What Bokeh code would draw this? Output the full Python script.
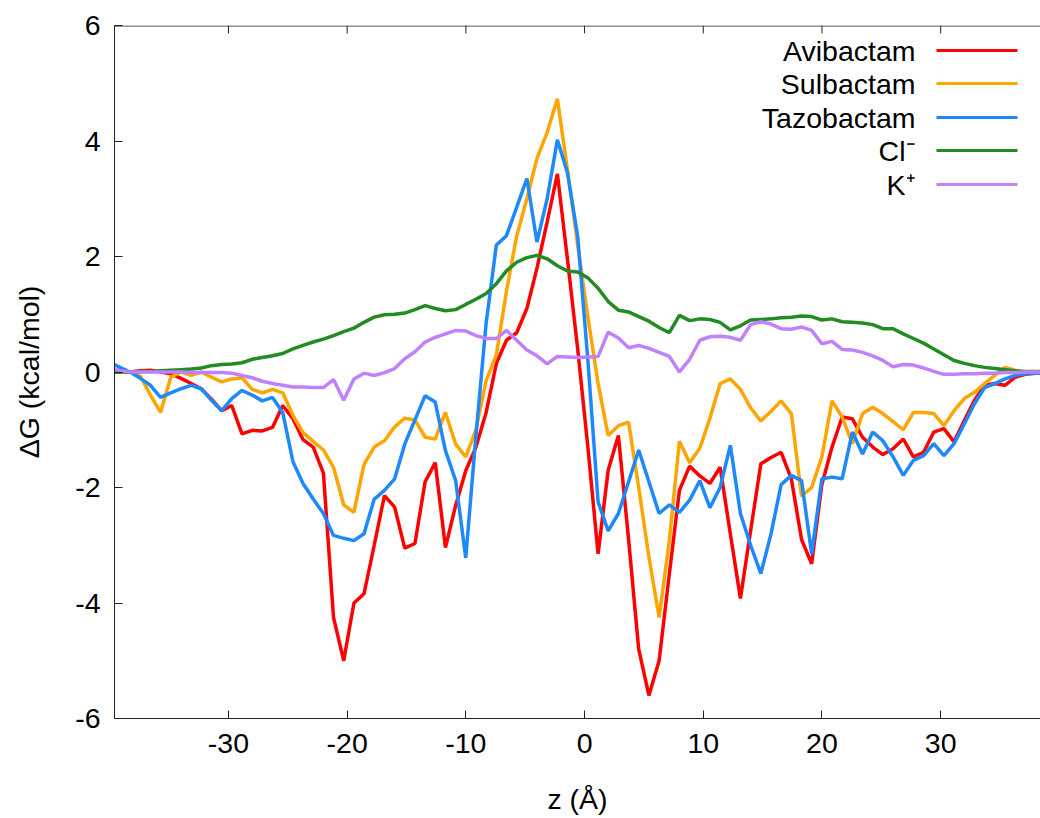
from bokeh.plotting import figure
from bokeh.models import FixedTicker, Range1d, Label, BoxAnnotation
from bokeh.embed import file_html
from bokeh.resources import INLINE

# z positions (Å)
z = [-40.00, -39.14, -38.29, -37.43, -36.57, -35.72, -34.86, -34.00, -33.14, -32.29,
     -31.43, -30.57, -29.72, -28.86, -28.00, -27.15, -26.29, -25.43, -24.57, -23.72,
     -22.86, -22.00, -21.15, -20.29, -19.43, -18.58, -17.72, -16.86, -16.00, -15.15,
     -14.29, -13.43, -12.58, -11.72, -10.86, -10.01, -9.15, -8.29, -7.43, -6.58,
     -5.72, -4.86, -4.01, -3.15, -2.29, -1.44, -0.58, 0.28, 1.14, 1.99,
     2.85, 3.71, 4.56, 5.42, 6.28, 7.14, 7.99, 8.85, 9.71, 10.56,
     11.42, 12.28, 13.13, 13.99, 14.85, 15.71, 16.56, 17.42, 18.28, 19.13,
     19.99, 20.85, 21.70, 22.56, 23.42, 24.28, 25.13, 25.99, 26.85, 27.70,
     28.56, 29.42, 30.27, 31.13, 31.99, 32.85, 33.70, 34.56, 35.42, 36.27,
     37.13, 37.99, 38.84]

avibactam = [0.0, 0.0, 0.0, 0.02, 0.03, 0.0, -0.03, -0.11, -0.2, -0.29,
             -0.47, -0.67, -0.58, -1.07, -1.01, -1.02, -0.96, -0.58, -0.81, -1.17,
             -1.3, -1.75, -4.25, -5.0, -4.0, -3.84, -3.0, -2.14, -2.34, -3.05,
             -2.97, -1.9, -1.57, -3.04, -2.31, -1.71, -1.3, -0.7, 0.15, 0.55,
             0.68, 1.1, 1.8, 2.6, 3.43, 1.95, 0.4, -1.3, -3.15, -1.7,
             -1.1, -2.9, -4.8, -5.6, -5.0, -3.5, -2.05, -1.63, -1.8, -1.93,
             -1.65, -2.8, -3.92, -2.75, -1.59, -1.48, -1.39, -1.85, -2.9, -3.32,
             -1.95, -1.3, -0.78, -0.81, -1.13, -1.3, -1.43, -1.33, -1.16, -1.47,
             -1.39, -1.04, -0.98, -1.21, -0.84, -0.49, -0.23, -0.2, -0.23, -0.09,
             -0.04, -0.02, -0.01]

sulbactam = [0.0, 0.0, 0.0, -0.07, -0.4, -0.7, -0.09, 0.0, -0.06, 0.0,
             -0.09, -0.17, -0.12, -0.1, -0.3, -0.36, -0.3, -0.36, -0.75, -1.05,
             -1.2, -1.35, -1.65, -2.3, -2.43, -1.6, -1.3, -1.19, -0.95, -0.8,
             -0.83, -1.13, -1.16, -0.7, -1.25, -1.47, -1.0, -0.15, 0.3, 1.4,
             2.35, 3.0, 3.7, 4.15, 4.73, 3.5, 2.2, 0.95, -0.2, -1.1,
             -0.93, -0.87, -2.0, -3.2, -4.25, -2.92, -1.2, -1.57, -1.32, -0.8,
             -0.2, -0.12, -0.3, -0.62, -0.85, -0.68, -0.5, -0.72, -2.15, -2.0,
             -1.47, -0.5, -0.78, -1.24, -0.72, -0.61, -0.72, -0.86, -1.0, -0.7,
             -0.7, -0.72, -0.93, -0.67, -0.46, -0.35, -0.2, -0.06, 0.08, 0.03,
             0.0, 0.0, 0.0]

tazobactam = [0.17, 0.08, 0.0, -0.11, -0.23, -0.44, -0.36, -0.29, -0.23, -0.29,
              -0.49, -0.67, -0.46, -0.32, -0.4, -0.5, -0.44, -0.7, -1.55, -1.93,
              -2.2, -2.45, -2.83, -2.88, -2.92, -2.8, -2.2, -2.05, -1.85, -1.25,
              -0.83, -0.41, -0.52, -1.36, -1.88, -3.22, -1.1, 0.85, 2.2, 2.36,
              2.85, 3.35, 2.25, 3.0, 4.02, 3.45, 2.35, 0.2, -2.25, -2.75,
              -2.45, -1.9, -1.35, -1.9, -2.45, -2.3, -2.43, -2.22, -1.88, -2.35,
              -2.0, -1.27, -2.45, -3.0, -3.49, -2.8, -1.95, -1.79, -1.88, -3.15,
              -1.85, -1.82, -1.85, -1.04, -1.42, -1.04, -1.19, -1.47, -1.79, -1.53,
              -1.45, -1.24, -1.45, -1.24, -0.9, -0.55, -0.27, -0.2, -0.12, -0.06,
              -0.03, -0.02, -0.02]

chloride = [0.0, 0.0, 0.0, 0.01, 0.01, 0.02, 0.03, 0.04, 0.05, 0.07,
            0.11, 0.13, 0.14, 0.16, 0.22, 0.25, 0.28, 0.32, 0.4, 0.46,
            0.52, 0.57, 0.63, 0.7, 0.76, 0.86, 0.95, 0.99, 1.0, 1.02,
            1.08, 1.15, 1.1, 1.06, 1.08, 1.17, 1.26, 1.36, 1.53, 1.75,
            1.9, 1.98, 2.02, 1.96, 1.84, 1.75, 1.73, 1.63, 1.45, 1.22,
            1.07, 1.04, 0.96, 0.88, 0.77, 0.68, 0.98, 0.89, 0.92, 0.91,
            0.86, 0.73, 0.8, 0.9, 0.91, 0.92, 0.94, 0.95, 0.97, 0.96,
            0.9, 0.92, 0.87, 0.86, 0.85, 0.82, 0.75, 0.75, 0.66, 0.58,
            0.5, 0.4, 0.3, 0.2, 0.15, 0.11, 0.08, 0.06, 0.04, 0.02,
            0.01, 0.01, 0.01]

potassium = [0.08, 0.02, 0.0, 0.0, 0.0, 0.0, 0.0, 0.0, -0.01, -0.01,
             -0.01, -0.01, -0.02, -0.06, -0.1, -0.16, -0.2, -0.23, -0.26, -0.26,
             -0.27, -0.27, -0.13, -0.49, -0.12, -0.02, -0.06, -0.01, 0.06, 0.23,
             0.35, 0.52, 0.6, 0.66, 0.72, 0.71, 0.63, 0.58, 0.58, 0.72,
             0.55, 0.38, 0.28, 0.14, 0.27, 0.26, 0.25, 0.26, 0.27, 0.69,
             0.59, 0.42, 0.46, 0.41, 0.34, 0.27, 0.0, 0.22, 0.55, 0.61,
             0.62, 0.6, 0.55, 0.82, 0.87, 0.83, 0.75, 0.74, 0.78, 0.72,
             0.49, 0.53, 0.39, 0.38, 0.34, 0.28, 0.2, 0.09, 0.13, 0.12,
             0.07, 0.01, -0.04, -0.04, -0.03, -0.03, -0.02, -0.02, -0.01, -0.01,
             0.0, 0.0, 0.0]

labels = ["Avibactam", "Sulbactam", "Tazobactam", "Cl\u207b", "K\u207a"]
colors = ["#ff0000", "#ffa500", "#1e88ff", "#228b22", "#c080ff"]
series = [avibactam, sulbactam, tazobactam, chloride, potassium]

xticks = [-30, -20, -10, 0, 10, 20, 30]
yticks = [-6, -4, -2, 0, 2, 4, 6]

FONT = "Liberation Sans"
FS = "28.5px"
AXC = "#222222"
FW, FH = 926, 693   # frame size in px

p = figure(width=1040, height=818,
           x_range=Range1d(-39.6, 38.41), y_range=Range1d(-6, 6),
           output_backend="svg", toolbar_location=None,
           min_border_left=114, min_border_right=0,
           min_border_top=25, min_border_bottom=100)
p.grid.visible = False
p.outline_line_color = None
p.background_fill_color = "white"
p.border_fill_color = "white"

for ys, c in zip(series, colors):
    p.line(z, ys, line_color=c, line_width=3.5)

for ax, ticks in ((p.xaxis[0], xticks), (p.yaxis[0], yticks)):
    ax.ticker = FixedTicker(ticks=ticks)
    ax.major_label_overrides = {t: str(t) for t in ticks}
    ax.major_tick_in = 8
    ax.major_tick_out = 0
    ax.minor_tick_line_color = None
    ax.axis_line_color = AXC
    ax.major_tick_line_color = AXC
    ax.major_label_text_font = FONT
    ax.major_label_text_font_size = FS
    ax.major_label_text_color = "black"
    ax.axis_label_text_font = FONT
    ax.axis_label_text_font_size = FS
    ax.axis_label_text_font_style = "normal"
    ax.axis_label_text_color = "black"

p.xaxis[0].axis_label = "z (\u00c5)"
p.yaxis[0].axis_label = "\u0394G (kcal/mol)"
p.xaxis[0].major_label_standoff = 15
p.xaxis[0].axis_label_standoff = 27
p.yaxis[0].major_label_standoff = 14
p.yaxis[0].axis_label_standoff = 27

# top border with mirrored inward ticks (gnuplot style)
p.add_layout(BoxAnnotation(left=0, right=FW, bottom=FH - 1, top=FH,
                           left_units="screen", right_units="screen",
                           bottom_units="screen", top_units="screen",
                           fill_color=AXC, fill_alpha=1.0, line_color=None))
for t in xticks:
    p.add_layout(BoxAnnotation(left=t - 0.042, right=t + 0.042, bottom=FH - 8, top=FH,
                               bottom_units="screen", top_units="screen",
                               fill_color=AXC, fill_alpha=1.0, line_color=None))

# key (gnuplot style: label then sample line)
row_y = [668, 635, 601, 568, 534]
for lab, c, yy in zip(labels, colors, row_y):
    p.add_layout(Label(x=801, y=yy, x_units="screen", y_units="screen", text=lab,
                       text_align="right", text_baseline="middle",
                       text_font=FONT, text_font_size=FS, text_color="black"))
    p.add_layout(BoxAnnotation(left=822, right=903, bottom=yy - 1.5, top=yy + 1.5,
                               left_units="screen", right_units="screen",
                               bottom_units="screen", top_units="screen",
                               fill_color=c, fill_alpha=1.0, line_color=None))

open("out.html", "w").write(file_html(p, INLINE))
